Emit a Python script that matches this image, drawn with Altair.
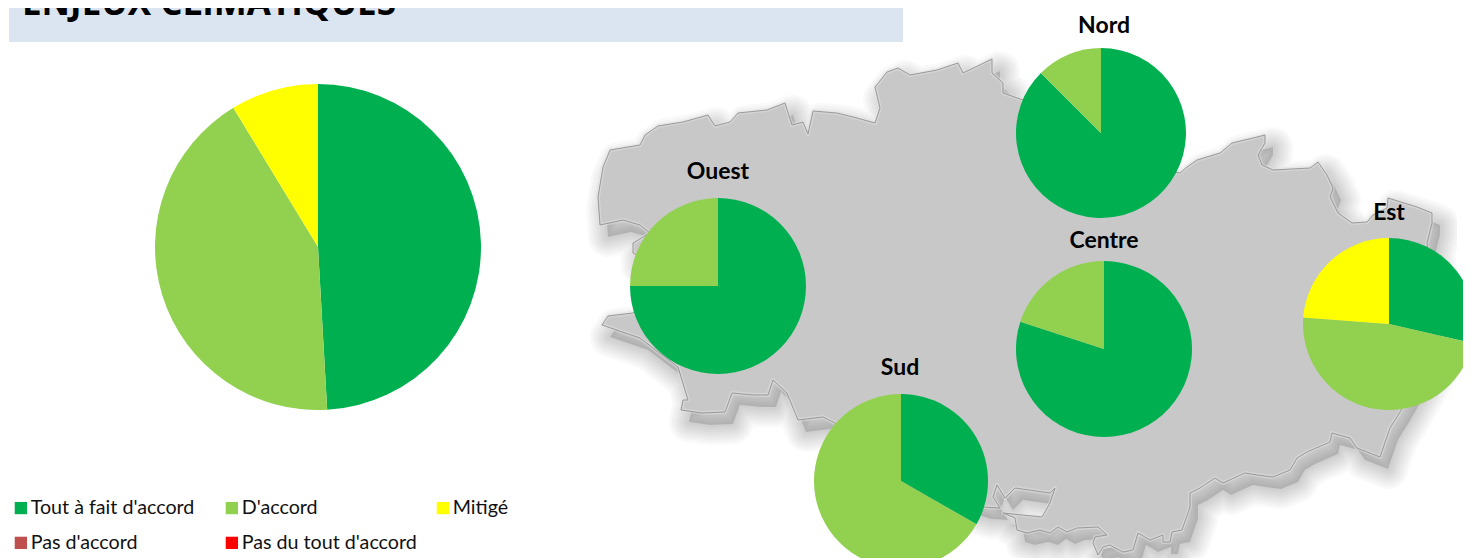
import altair as alt
import pandas as pd

CATEGORIES = ["Tout à fait d'accord", "D'accord", "Mitigé", "Pas d'accord", "Pas du tout d'accord"]
COLORS = ["#00B050", "#92D050", "#FFFF00", "#C0504D", "#FF0000"]

TITLE = "ENJEUX CLIMATIQUES"
ENSEMBLE = [49.1, 42.2, 8.7]
NORD = [87.5, 12.5, 0]
OUEST = [75, 25, 0]
CENTRE = [80, 20, 0]
EST = [28.6, 47.6, 23.8]
SUD = [33.3, 66.7, 0]

COAST_X = [600, 598, 603, 610, 640, 645, 658, 683, 708, 715, 730, 738, 767, 785, 792, 803, 808, 813, 837, 857, 875, 880, 875, 887, 898, 910, 937, 958, 963, 992, 992, 1003, 1003, 1023, 1100, 1180, 1187, 1197, 1220, 1232, 1253, 1265, 1265, 1258, 1262, 1273, 1310, 1318, 1327, 1333, 1330, 1338, 1352, 1367, 1373, 1387, 1388, 1417, 1432, 1432, 1427, 1435, 1430, 1400, 1390, 1380, 1357, 1350, 1332, 1330, 1307, 1297, 1290, 1273, 1257, 1245, 1223, 1215, 1200, 1190, 1190, 1182, 1172, 1170, 1163, 1163, 1150, 1138, 1133, 1123, 1110, 1103, 1098, 1093, 1095, 1107, 1098, 1077, 1067, 1058, 1050, 1040, 1027, 1017, 1015, 1003, 1042, 1050, 1055, 1050, 1015, 1005, 997, 993, 1000, 983, 900, 835, 823, 798, 787, 773, 768, 753, 732, 725, 702, 681, 683, 688, 678, 640, 602, 608, 633, 650, 650, 633, 633, 650, 640, 623]
COAST_Y = [225, 197, 167, 150, 145, 135, 126, 122, 115, 126, 122, 113, 110, 103, 125, 122, 134, 111, 113, 118, 123, 108, 87, 72, 68, 75, 70, 63, 73, 59, 73, 83, 93, 100, 160, 173, 167, 160, 153, 143, 138, 135, 143, 155, 165, 170, 168, 162, 175, 188, 197, 213, 223, 222, 215, 208, 198, 207, 213, 223, 243, 300, 360, 412, 428, 457, 448, 438, 433, 442, 452, 458, 470, 477, 475, 473, 483, 478, 488, 493, 507, 530, 532, 542, 542, 535, 540, 533, 550, 552, 545, 547, 555, 543, 537, 535, 527, 528, 532, 527, 533, 530, 533, 530, 518, 513, 517, 503, 488, 493, 488, 498, 485, 497, 508, 507, 480, 423, 417, 420, 393, 380, 395, 395, 393, 412, 413, 410, 400, 400, 367, 338, 325, 316, 313, 300, 262, 253, 243, 233, 225, 220]

FONT = "Lato"
OX, OY = 8, 8


def land(dx=0, dy=0, **mark):
    ring = [[x + dx, y + dy] for x, y in zip(COAST_X, COAST_Y)]
    ring.append(ring[0])
    coast = alt.Data(values=[{"type": "Feature", "properties": {}, "geometry": {"type": "Polygon", "coordinates": [ring]}}])
    return alt.Chart(coast).mark_geoshape(**mark).project(type="identity", scale=1, translate=[-OX, -OY])


def pie(values, cx, cy, r):
    df = pd.DataFrame({"cat": CATEGORIES[:3], "val": values, "rank": [0, 1, 2]})
    return alt.Chart(df).mark_arc(outerRadius=r).encode(
        x=alt.value(cx - OX), y=alt.value(cy - OY),
        theta=alt.Theta("val:Q", stack=True, scale=alt.Scale(domain=[0, 100])),
        order=alt.Order("rank:Q"),
        color=alt.Color("cat:N", scale=alt.Scale(domain=CATEGORIES, range=COLORS),
                        legend=alt.Legend(orient="none", legendX=3, legendY=490, columns=3, direction="horizontal", title=None,
                                          symbolType="square", symbolSize=150, symbolStrokeWidth=0,
                                          gridAlign="all", columnPadding=16, rowPadding=14,
                                          labelFont=FONT, labelFontSize=19.7, labelColor="#111111",
                                          labelOffset=0, labelLimit=300, symbolOffset=0)),
    )


def label(text, x, y, size=23, weight="bold", font=FONT, align="center"):
    return alt.Chart(alt.Data(values=[{"t": text}])).mark_text(
        font=font, fontSize=size, fontWeight=weight, align=align, baseline="alphabetic", color="#000000"
    ).encode(text="t:N", x=alt.value(x - OX), y=alt.value(y - OY))


def box(x1, x2, y1, y2, color):
    return alt.Chart(alt.Data(values=[{"a": 1}])).mark_rect(color=color).encode(
        x=alt.value(x1 - OX), x2=alt.value(x2 - OX), y=alt.value(y1 - OY), y2=alt.value(y2 - OY))


shadow = [
    land(8, 12, filled=False, stroke="#000000", strokeWidth=w, strokeOpacity=0.025, strokeJoin="round")
    for w in (40, 35, 30, 25, 20, 15, 10, 5)
]
layers = shadow + [
    land(8, 12, fill="#000000", fillOpacity=0.14, strokeWidth=0),
    box(1457, 1480, 0, 560, "#FFFFFF"),
    land(fill="#C8C8C8", strokeWidth=0),
    land(filled=False, stroke="#E2E2E2", strokeWidth=4, strokeOpacity=0.45, strokeJoin="round"),
    land(filled=False, stroke="#999999", strokeWidth=1, strokeJoin="round"),
    box(9, 903, 0, 42, "#DBE5F1"),
    label(TITLE, 22, 15, size=35, font="Open Sans", align="left"),
    pie(ENSEMBLE, 318, 247, 163),
    pie(NORD, 1101, 133, 85),
    pie(OUEST, 718, 286, 88),
    pie(CENTRE, 1104, 349, 88),
    pie(EST, 1389, 324, 86),
    pie(SUD, 901, 481, 87),
    label("Nord", 1104, 33),
    label("Ouest", 718, 179),
    label("Centre", 1104, 248),
    label("Est", 1389, 220),
    label("Sud", 900, 375),
]

chart = alt.layer(*layers).properties(
    width=1455, height=550, padding=0, autosize=alt.AutoSizeParams(type="none")
).configure_view(stroke=None)

chart.save("out.html", embed_options={"renderer": "svg", "actions": False})
